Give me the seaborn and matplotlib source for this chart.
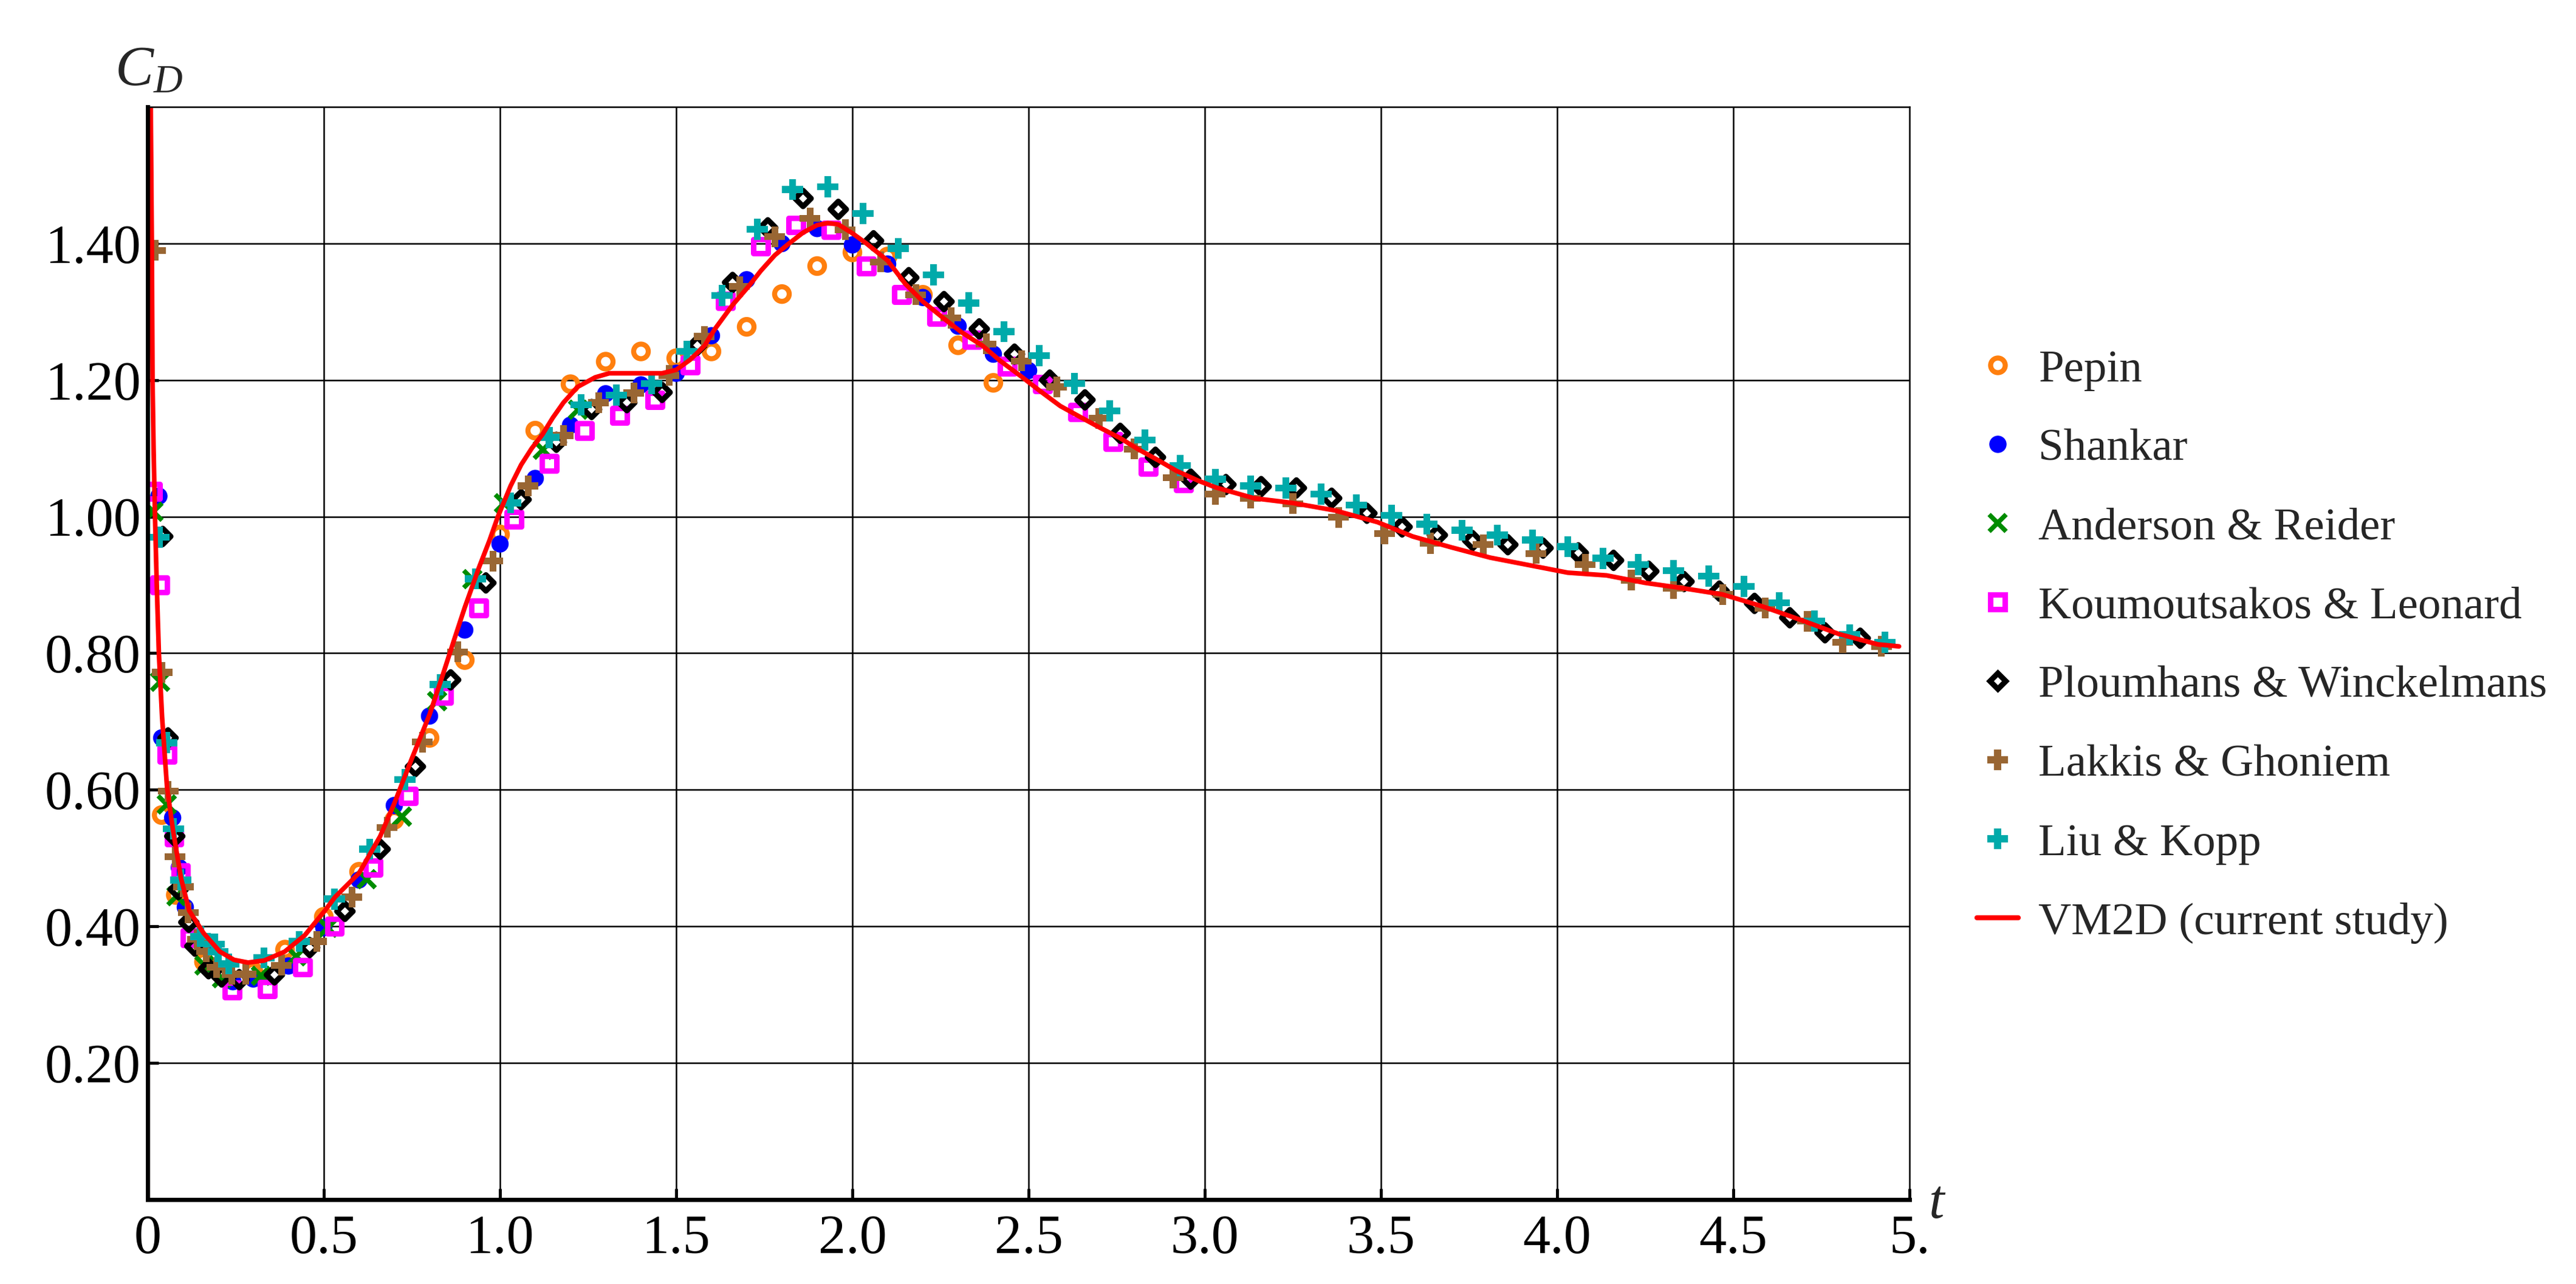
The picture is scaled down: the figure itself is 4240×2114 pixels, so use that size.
import numpy as np
import pandas as pd
import seaborn as sns
import matplotlib.pyplot as plt
from matplotlib.lines import Line2D

# Pepin
pepin_t = [0.04, 0.08, 0.16, 0.30, 0.39, 0.50, 0.60, 0.70, 0.80, 0.90, 1.00, 1.10, 1.20,
           1.30, 1.40, 1.50, 1.60, 1.70, 1.80, 1.90, 2.00, 2.10, 2.20, 2.30, 2.40]
pepin_cd = [0.563, 0.446, 0.348, 0.334, 0.366, 0.414, 0.48, 0.556, 0.676, 0.79, 0.974, 1.126, 1.194,
            1.227, 1.242, 1.232, 1.242, 1.278, 1.326, 1.367, 1.387, 1.381, 1.325, 1.251, 1.196]

# Shankar
shankar_t = [0.032, 0.04, 0.071, 0.09, 0.107, 0.159, 0.242, 0.30, 0.40, 0.50, 0.60, 0.70, 0.80,
             0.90, 1.00, 1.10, 1.20, 1.30, 1.40, 1.50, 1.60, 1.70, 1.80, 1.90, 2.00, 2.10,
             2.20, 2.30, 2.40, 2.50]
shankar_cd = [1.03, 0.676, 0.559, 0.486, 0.428, 0.375, 0.319, 0.323, 0.342, 0.398, 0.468, 0.577,
              0.708, 0.834, 0.96, 1.056, 1.134, 1.18, 1.193, 1.21, 1.265, 1.347, 1.40, 1.422,
              1.398, 1.37, 1.321, 1.279, 1.238, 1.214]

# Anderson & Reider
anderson_t = [0.015, 0.035, 0.054, 0.081, 0.16, 0.21, 0.32, 0.42, 0.51, 0.62, 0.72, 0.82,
              0.92, 1.01, 1.12, 1.22]
anderson_cd = [1.008, 0.759, 0.579, 0.445, 0.343, 0.325, 0.328, 0.357, 0.398, 0.47, 0.561, 0.73,
               0.909, 1.02, 1.098, 1.157]

# Koumoutsakos & Leonard
koum_t = [0.015, 0.035, 0.055, 0.075, 0.094, 0.121, 0.24, 0.34, 0.44, 0.53, 0.64, 0.74, 0.84,
          0.94, 1.04, 1.14, 1.24, 1.34, 1.44, 1.54, 1.64, 1.74, 1.84, 1.94, 2.04, 2.14, 2.24,
          2.34, 2.44, 2.54, 2.64, 2.74, 2.84, 2.94]
koum_cd = [1.037, 0.90, 0.652, 0.531, 0.479, 0.383, 0.307, 0.308, 0.34, 0.40, 0.486, 0.591, 0.738,
           0.866, 0.996, 1.078, 1.126, 1.148, 1.171, 1.222, 1.316, 1.396, 1.427, 1.42, 1.367,
           1.325, 1.293, 1.259, 1.22, 1.194, 1.153, 1.11, 1.073, 1.049]

# Ploumhans & Winckelmans
ploum_t = [0.043, 0.058, 0.077, 0.087, 0.117, 0.134, 0.173, 0.21, 0.26,
           0.36, 0.46, 0.56, 0.66, 0.76, 0.86, 0.96, 1.06, 1.16, 1.26,
           1.36, 1.46, 1.56, 1.66, 1.76, 1.86, 1.96, 2.06, 2.16, 2.26,
           2.36, 2.46, 2.56, 2.66, 2.76, 2.86, 2.96, 3.06, 3.16, 3.26,
           3.36, 3.46, 3.56, 3.66, 3.76, 3.86, 3.96, 4.06, 4.16, 4.26,
           4.36, 4.46, 4.56, 4.66, 4.76, 4.86]
ploum_cd = [0.971, 0.676, 0.532, 0.454, 0.406, 0.371, 0.338, 0.326, 0.322,
            0.329, 0.369, 0.422, 0.513, 0.634, 0.761, 0.903, 1.025, 1.109, 1.157,
            1.167, 1.182, 1.251, 1.343, 1.423, 1.466, 1.45, 1.404, 1.35, 1.315,
            1.275, 1.238, 1.2, 1.171, 1.122, 1.087, 1.055, 1.047, 1.044, 1.042,
            1.027, 1.005, 0.985, 0.973, 0.965, 0.959, 0.954, 0.947, 0.936, 0.92,
            0.905, 0.891, 0.873, 0.852, 0.83, 0.822]

# Lakkis & Ghoniem
lakkis_t = [0.022, 0.041, 0.058, 0.078, 0.101, 0.115, 0.141, 0.167, 0.196, 0.239, 0.279,
            0.38, 0.48, 0.58, 0.68, 0.78, 0.88, 0.98, 1.08, 1.18, 1.28,
            1.38, 1.48, 1.58, 1.68, 1.78, 1.88, 1.98, 2.08, 2.18, 2.28,
            2.38, 2.48, 2.58,
            2.70, 2.80, 2.91, 3.03, 3.13, 3.25, 3.38, 3.51, 3.64, 3.79, 3.94, 4.08,
            4.21, 4.33, 4.47, 4.59, 4.71, 4.81, 4.92]
lakkis_cd = [1.39, 0.772, 0.598, 0.502, 0.458, 0.42, 0.381, 0.363, 0.34, 0.33, 0.33,
             0.343, 0.378, 0.443, 0.545, 0.67, 0.802, 0.935, 1.045, 1.119, 1.167,
             1.181, 1.207, 1.264, 1.337, 1.41, 1.437, 1.42, 1.373, 1.325, 1.291,
             1.253, 1.228, 1.19,
             1.144, 1.099, 1.057, 1.033, 1.027, 1.019, 0.999, 0.975, 0.961, 0.959, 0.946, 0.93,
             0.907, 0.895, 0.886, 0.866, 0.847, 0.816, 0.81]

# Liu & Kopp
liu_t = [0.033, 0.054, 0.073, 0.094, 0.15, 0.19, 0.20, 0.23,
         0.33, 0.43, 0.53, 0.63, 0.73, 0.83, 0.93, 1.03, 1.14, 1.23,
         1.33, 1.43, 1.53, 1.63, 1.73, 1.83, 1.93, 2.03, 2.13, 2.23,
         2.33, 2.43, 2.53, 2.63, 2.73, 2.83, 2.93, 3.03, 3.13, 3.23,
         3.33, 3.43, 3.53, 3.63, 3.73, 3.83, 3.93, 4.03, 4.13, 4.23,
         4.33, 4.43, 4.53, 4.63, 4.73, 4.83, 4.93]
liu_cd = [0.97, 0.669, 0.543, 0.468, 0.385, 0.374, 0.363, 0.345,
          0.354, 0.378, 0.44, 0.513, 0.615, 0.754, 0.909, 1.02, 1.116, 1.164,
          1.178, 1.195, 1.242, 1.324, 1.421, 1.479, 1.483, 1.444, 1.393, 1.354,
          1.313, 1.271, 1.236, 1.195, 1.155, 1.112, 1.075, 1.055, 1.045, 1.042,
          1.033, 1.017, 1.002, 0.989, 0.98, 0.973, 0.966, 0.956, 0.939, 0.93,
          0.921, 0.913, 0.898, 0.874, 0.847, 0.827, 0.816]

# VM2D (current study)
vm_t = [0.0, 0.0, 0.003, 0.009, 0.012, 0.014, 0.017, 0.021, 0.026, 0.032, 0.041, 0.055, 0.072,
        0.095, 0.118, 0.159, 0.205, 0.245, 0.285, 0.331, 0.389, 0.446, 0.503, 0.532, 0.60,
        0.66, 0.70, 0.75, 0.80, 0.84, 0.87, 0.90, 0.94, 0.97, 0.994, 1.03, 1.06, 1.09, 1.12,
        1.15, 1.18, 1.22, 1.27, 1.31, 1.35, 1.40, 1.46, 1.50, 1.54, 1.58, 1.61, 1.66, 1.705,
        1.74, 1.78, 1.82, 1.86, 1.90, 1.93, 1.96, 2.00, 2.04, 2.10, 2.15, 2.20, 2.26, 2.31,
        2.37, 2.42, 2.48, 2.53, 2.59, 2.65, 2.70, 2.76, 2.81, 2.87, 2.92, 2.98, 3.03, 3.14,
        3.25, 3.37, 3.49, 3.59, 3.70, 3.81, 3.92, 4.03, 4.14, 4.25, 4.36, 4.47, 4.58, 4.69,
        4.80, 4.91, 4.97]
vm_cd = [0.0, 3.0, 2.2, 1.6, 1.40, 1.20, 1.10, 1.00, 0.90, 0.80, 0.707, 0.604, 0.541,
         0.47, 0.423, 0.39, 0.363, 0.351, 0.347, 0.35, 0.363, 0.387, 0.423, 0.443, 0.478,
         0.532, 0.58, 0.646, 0.71, 0.772, 0.82, 0.867, 0.925, 0.965, 1.0, 1.045, 1.076, 1.10, 1.12,
         1.145, 1.167, 1.19, 1.204, 1.21, 1.21, 1.21, 1.21, 1.215, 1.23, 1.25, 1.275, 1.31, 1.337,
         1.36, 1.383, 1.40, 1.416, 1.427, 1.43, 1.428, 1.415, 1.40, 1.375, 1.341, 1.315, 1.29, 1.27,
         1.25, 1.228, 1.205, 1.185, 1.162, 1.145, 1.131, 1.115, 1.099, 1.082, 1.067, 1.053, 1.043, 1.027,
         1.020, 1.009, 0.992, 0.971, 0.955, 0.94, 0.929, 0.918, 0.914, 0.903, 0.895, 0.886, 0.869, 0.849,
         0.828, 0.813, 0.81]

x_ticks = [0, 0.5, 1.0, 1.5, 2.0, 2.5, 3.0, 3.5, 4.0, 4.5, 5.0]
x_labels = ['0', '0.5', '1.0', '1.5', '2.0', '2.5', '3.0', '3.5', '4.0', '4.5', '5.']
y_ticks = [0.2, 0.4, 0.6, 0.8, 1.0, 1.2, 1.4]
y_labels = ['0.20', '0.40', '0.60', '0.80', '1.00', '1.20', '1.40']

sns.set_style('white')
plt.rcParams['font.family'] = ['Liberation Serif', 'DejaVu Serif']
plt.rcParams['mathtext.fontset'] = 'custom'
plt.rcParams['mathtext.rm'] = 'Liberation Serif'
plt.rcParams['mathtext.it'] = 'Liberation Serif:italic'

# marker styles: (label, t, cd, marker, size, face, edge, lw)
series = [
    ('Pepin', pepin_t, pepin_cd, 'o', 300, 'none', '#ff7f0e', 6.0),
    ('Shankar', shankar_t, shankar_cd, 'o', 420, '#0000ff', 'none', 0),
    ('Anderson & Reider', anderson_t, anderson_cd, 'x', 420, '#008c00', '#008c00', 5.5),
    ('Koumoutsakos & Leonard', koum_t, koum_cd, 's', 290, 'none', '#ff00ff', 6.5),
    ('Ploumhans & Winckelmans', ploum_t, ploum_cd, 'D', 180, 'none', '#000000', 6.5),
    ('Lakkis & Ghoniem', lakkis_t, lakkis_cd, 'P', 600, '#996633', 'none', 0),
    ('Liu & Kopp', liu_t, liu_cd, 'P', 620, '#00aaaa', 'none', 0),
]

fig = plt.figure(figsize=(42.4, 21.14), dpi=100)
ax = fig.add_axes([0.0573, 0.0658, 0.6840, 0.8509])

handles = []
for name, t, cd, mk, s, fc, ec, lw in series:
    df = pd.DataFrame({'t': t, 'cd': cd})
    sns.scatterplot(data=df, x='t', y='cd', ax=ax, marker=mk, s=s,
                    facecolor=fc, edgecolor=ec, linewidth=lw, zorder=2, legend=False)
    if mk == 'x':
        h = Line2D([], [], linestyle='none', marker=mk, markersize=np.sqrt(s),
                   markeredgecolor=ec, markeredgewidth=lw)
    else:
        h = Line2D([], [], linestyle='none', marker=mk, markersize=np.sqrt(s),
                   markerfacecolor=fc if fc != 'none' else 'white',
                   markeredgecolor=ec if ec != 'none' else fc,
                   markeredgewidth=lw if lw > 0 else 0)
    handles.append((h, name))

vm = pd.DataFrame({'t': vm_t, 'cd': vm_cd})
sns.lineplot(data=vm, x='t', y='cd', ax=ax, color='#ff0000', linewidth=5.5,
             estimator=None, sort=False, zorder=2.4)
handles.append((Line2D([], [], color='#ff0000', linewidth=6), 'VM2D (current study)'))

ax.set_xlim(0, 5)
ax.set_ylim(0, 1.6)
ax.set_xticks(x_ticks)
ax.set_xticklabels(x_labels)
ax.set_yticks(y_ticks)
ax.set_yticklabels(y_labels)
ax.set_xlabel('')
ax.set_ylabel('')

# grid lines (incl. top and right border lines)
ax.set_axisbelow(True)
for v in [0.2, 0.4, 0.6, 0.8, 1.0, 1.2, 1.4]:
    ax.axhline(v, color='black', linewidth=1.8, zorder=0.5)
for v in [0.5, 1.0, 1.5, 2.0, 2.5, 3.0, 3.5, 4.0, 4.5]:
    ax.axvline(v, color='black', linewidth=1.8, zorder=0.5)

for side in ['top', 'right']:
    ax.spines[side].set_linewidth(1.8)
    ax.spines[side].set_color('black')
for side in ['left', 'bottom']:
    ax.spines[side].set_linewidth(5)
    ax.spines[side].set_color('black')

ax.tick_params(axis='both', direction='in', length=13, width=3.5, colors='black',
               labelsize=65, top=False, right=False, left=True, bottom=True)
ax.tick_params(axis='x', pad=18)
ax.tick_params(axis='y', pad=8)

fig.text(0.0577, 1 - 140 / 2114, r'$C_D$', ha='center', va='baseline', fontsize=68)
fig.text(0.752, 0.062, r'$t$', ha='center', va='center', fontsize=66)

leg = fig.legend([h for h, _ in handles], [n for _, n in handles],
                 loc='upper left', bbox_to_anchor=(0.7675, 0.728),
                 frameon=False, fontsize=54, handlelength=0.9, handletextpad=0.45,
                 labelspacing=0.82, borderpad=0, borderaxespad=0)

fig.savefig('out.png', dpi=100)
